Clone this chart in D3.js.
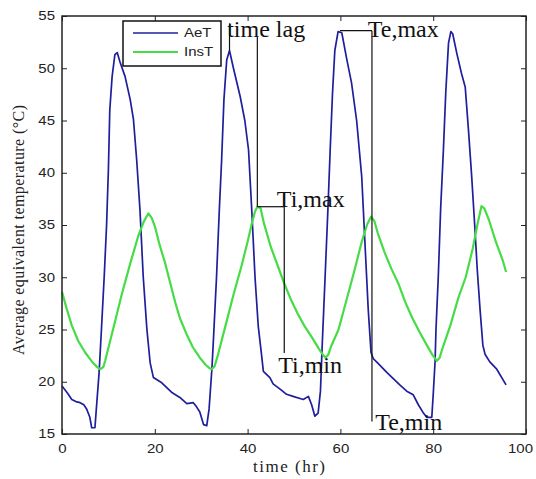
<!DOCTYPE html>
<html>
<head>
<meta charset="utf-8">
<script src="https://cdn.jsdelivr.net/npm/d3@7"></script>
<style>
    body { margin: 0; background: #fff; }
    svg { display: block; }
</style>
</head>
<body>
<svg id="chart" width="536" height="479"></svg>
<script>
'use strict';

/* global d3 */

// AeT - average equivalent (sol-air) temperature
var aetHours = [0, 0.5, 1.2, 2.1, 3.0, 3.9, 4.7, 5.3, 6.0, 6.4, 7.1, 7.4, 8.0, 8.5, 9.1, 9.6, 10.0, 10.3, 10.8, 11.4,
    11.9, 12.5, 13.6, 14.7, 15.4, 16.1, 16.8, 17.5, 18.3, 19.0, 19.7, 21.5, 23.6, 25.4, 26.9, 28.3, 29.0, 29.7, 30.5, 31.2,
    31.7, 32.3, 32.6, 33.3, 33.9, 34.4, 34.9, 35.5, 36.1, 36.9, 38.4, 39.4, 40.2, 40.9, 41.6, 42.3, 43.0, 43.4, 44.8, 45.5,
    47.0, 48.4, 49.8, 52.0, 53.1, 53.8, 54.5, 55.2, 55.7, 56.1, 56.7, 57.3, 57.8, 58.3, 58.8, 59.5, 60.3, 61.4, 62.4, 63.5,
    64.6, 65.3, 66.0, 66.6, 67.1, 67.8, 70.0, 72.8, 74.3, 75.7, 76.8, 77.9, 78.6, 79.7, 80.0, 80.4, 80.6, 81.1, 81.6, 82.2,
    82.7, 83.3, 83.8, 84.2, 85.1, 86.1, 86.9, 87.6, 88.3, 89.0, 89.5, 90.1, 90.7, 91.2, 92.2, 93.7, 95.7];
var aetValues = [19.6, 19.3, 18.9, 18.3, 18.1, 18.0, 17.8, 17.4, 16.6, 15.6, 15.6, 17.4, 20.9, 25.0, 30.1, 34.9, 40.3, 46.0, 49.2, 51.3,
    51.5, 50.6, 49.2, 47.0, 45.1, 41.2, 36.5, 30.1, 25.0, 21.8, 20.4, 19.9, 19.0, 18.5, 17.9, 18.0, 17.6, 17.1, 15.9, 15.8,
    17.4, 21.2, 23.7, 30.0, 36.4, 41.2, 47.0, 50.8, 51.7, 50.1, 47.3, 45.0, 42.2, 36.4, 30.0, 25.3, 22.6, 21.0, 20.4, 19.8,
    19.3, 18.8, 18.6, 18.3, 18.6, 17.8, 16.7, 17.0, 19.1, 23.7, 30.0, 36.4, 42.2, 47.6, 51.7, 53.5, 53.4, 50.8, 48.6, 45.0,
    39.6, 33.2, 26.9, 22.8, 22.2, 21.9, 20.9, 19.7, 19.1, 18.75, 17.8, 17.0, 16.6, 16.6, 18.75, 21.9, 25.0, 30.1, 36.5, 42.2,
    47.6, 52.4, 53.5, 53.3, 51.4, 49.5, 48.2, 44.1, 39.6, 34.6, 30.7, 26.9, 23.5, 22.6, 21.9, 21.2, 19.7];

// InsT - inside temperature
var insHours = [0, 1.0, 2.1, 3.5, 5.0, 6.5, 7.6, 8.2, 8.9, 9.3, 11.0, 12.9, 14.7, 16.4, 17.6, 18.6, 19.3, 20.0, 21.1, 22.2,
    23.3, 24.4, 25.4, 26.8, 28.2, 29.7, 31.0, 31.8, 32.3, 32.9, 33.5, 35.2, 37.0, 38.7, 40.0, 41.0, 41.6, 42.1, 42.8, 43.5,
    45.0, 46.5, 47.9, 49.3, 50.8, 52.3, 53.8, 55.3, 56.2, 56.8, 57.4, 58.0, 59.6, 61.3, 63.0, 64.6, 65.8, 66.6, 67.3, 68.0,
    69.5, 71.0, 72.5, 74.0, 75.5, 77.0, 78.5, 79.8, 80.8, 81.4, 82.0, 83.7, 85.4, 87.0, 88.5, 89.6, 90.4, 91.0, 92.0, 93.5,
    95.0, 95.7];
var insValues = [28.6, 27.0, 25.4, 23.9, 22.8, 21.9, 21.4, 21.2, 21.4, 22.0, 25.0, 28.4, 31.3, 33.9, 35.3, 36.1, 35.7, 34.9, 33.0, 31.4,
    29.5, 27.6, 26.1, 24.6, 23.3, 22.3, 21.6, 21.3, 21.2, 21.5, 22.4, 25.3, 28.4, 31.1, 33.4, 35.3, 36.3, 36.75, 36.6, 35.2,
    32.9, 31.1, 29.4, 27.9, 26.5, 25.3, 24.3, 23.2, 22.6, 22.3, 22.6, 23.4, 25.0, 27.8, 30.6, 33.4, 35.1, 35.8, 35.4, 34.3,
    32.4, 30.8, 29.4, 27.6, 26.1, 24.8, 23.6, 22.6, 22.0, 22.3, 23.2, 25.4, 28.0, 30.0, 32.7, 35.2, 36.8, 36.6, 35.5, 33.4,
    31.6, 30.5];

var xTicks = [0, 20, 40, 60, 80, 100];
var yTicks = [15, 20, 25, 30, 35, 40, 45, 50, 55];

var seriesNames = ["AeT", "InsT"];
var seriesColors = ["#1f1f9c", "#45dc45"];

// annotation segments [hr1, temp1, hr2, temp2]
var annotationSegments = [
    [36.1, 54.3, 36.1, 51.7],
    [42.1, 53.0, 42.1, 36.75],
    [42.1, 36.75, 47.9, 36.75],
    [47.9, 36.75, 47.9, 22.75],
    [59.9, 53.6, 66.8, 53.6],
    [66.8, 53.6, 66.8, 16.2]
];
var annotationTexts = ["time lag", "Te,max", "Ti,max", "Ti,min", "Te,min"];
var annotationHours = [35.6, 65.9, 46.3, 46.6, 67.5];
var annotationTemps = [53.0, 53.0, 36.7, 20.8, 15.4];

var margin = {top: 16, right: 10, bottom: 45, left: 62};
var width = 536 - margin.left - margin.right;
var height = 479 - margin.top - margin.bottom;
var TICK_STRETCH = 1.25;

var svg = d3.select("#chart");
var g = svg.append("g")
    .attr("transform", "translate(" + margin.left + "," + margin.top + ")");

var x = d3.scaleLinear().domain([0, 100]).range([0, width]);
var y = d3.scaleLinear().domain([15, 55]).range([height, 0]);

function styleAxis(sel) {
    sel.select(".domain").remove();
    sel.selectAll(".tick line").attr("stroke", "#222").attr("stroke-width", 1);
    sel.selectAll(".tick text")
        .attr("fill", "#222")
        .style("font-family", "'Liberation Sans', Arial, sans-serif")
        .style("font-size", "12px");
}

// bottom / left axes, ticks pointing inward like matlab
var gx = g.append("g")
    .attr("transform", "translate(0," + height + ")")
    .call(d3.axisBottom(x).tickValues(xTicks).tickSize(-5).tickPadding(10));
styleAxis(gx);
gx.selectAll(".tick text")
    .attr("x", function (d, i) { return i === xTicks.length - 1 ? -6 / TICK_STRETCH : 0; })
    .attr("transform", "scale(" + TICK_STRETCH + ",1)");

var gy = g.append("g")
    .call(d3.axisLeft(y).tickValues(yTicks).tickSize(-5).tickPadding(7));
styleAxis(gy);
gy.selectAll(".tick text")
    .attr("x", -7 / TICK_STRETCH)
    .attr("transform", "scale(" + TICK_STRETCH + ",1)");

// mirrored ticks on top and right
var gTop = g.append("g")
    .call(d3.axisTop(x).tickValues(xTicks).tickSize(-5).tickFormat(""));
styleAxis(gTop);
var gRight = g.append("g")
    .attr("transform", "translate(" + width + ",0)")
    .call(d3.axisRight(y).tickValues(yTicks).tickSize(-5).tickFormat(""));
styleAxis(gRight);

var line = d3.line()
    .x(function (d) { return x(d[0]); })
    .y(function (d) { return y(d[1]); });

var aetData = aetHours.map(function (h, i) { return [h, aetValues[i]]; });
var insData = insHours.map(function (h, i) { return [h, insValues[i]]; });

g.append("path")
    .datum(aetData)
    .attr("fill", "none")
    .attr("stroke", seriesColors[0])
    .attr("stroke-width", 1.7)
    .attr("stroke-linejoin", "round")
    .attr("d", line);

g.append("path")
    .datum(insData)
    .attr("fill", "none")
    .attr("stroke", seriesColors[1])
    .attr("stroke-width", 2.2)
    .attr("stroke-linejoin", "round")
    .attr("d", line);

// annotations
g.selectAll("line.annot")
    .data(annotationSegments)
    .enter()
    .append("line")
    .attr("class", "annot")
    .attr("x1", function (d) { return x(d[0]); })
    .attr("y1", function (d) { return y(d[1]); })
    .attr("x2", function (d) { return x(d[2]); })
    .attr("y2", function (d) { return y(d[3]); })
    .attr("stroke", "#111")
    .attr("stroke-width", 1.2);

g.selectAll("text.annot")
    .data(annotationTexts)
    .enter()
    .append("text")
    .attr("class", "annot")
    .attr("x", function (d, i) { return x(annotationHours[i]); })
    .attr("y", function (d, i) { return y(annotationTemps[i]); })
    .attr("fill", "#111")
    .style("font-family", "'Liberation Serif', 'Times New Roman', serif")
    .style("font-size", "24px")
    .text(function (d) { return d; });

// frame
g.append("rect")
    .attr("width", width)
    .attr("height", height)
    .attr("fill", "none")
    .attr("stroke", "#222")
    .attr("stroke-width", 1.5);

// legend
var legend = g.append("g").attr("transform", "translate(61,5)");
legend.append("rect")
    .attr("width", 98)
    .attr("height", 45)
    .attr("fill", "#fff")
    .attr("stroke", "#111")
    .attr("stroke-width", 1.5);

var legendItems = legend.selectAll("g.item")
    .data(seriesNames)
    .enter()
    .append("g")
    .attr("class", "item")
    .attr("transform", function (d, i) { return "translate(0," + (12 + i * 19) + ")"; });

legendItems.append("line")
    .attr("x1", 10)
    .attr("x2", 55)
    .attr("stroke", function (d, i) { return seriesColors[i]; })
    .attr("stroke-width", function (d, i) { return i === 0 ? 1.7 : 2.2; });

legendItems.append("text")
    .attr("x", 61 / TICK_STRETCH)
    .attr("dy", "0.35em")
    .attr("transform", "scale(" + TICK_STRETCH + ",1)")
    .attr("fill", "#222")
    .style("font-family", "'Liberation Sans', Arial, sans-serif")
    .style("font-size", "12px")
    .text(function (d) { return d; });

// axis titles
svg.append("text")
    .attr("x", 289)
    .attr("y", 472)
    .attr("text-anchor", "middle")
    .attr("textLength", 72)
    .attr("fill", "#222")
    .style("font-family", "'Liberation Serif', 'Times New Roman', serif")
    .style("font-size", "17px")
    .text("time (hr)");

svg.append("text")
    .attr("transform", "translate(24,230) rotate(-90)")
    .attr("text-anchor", "middle")
    .attr("textLength", 250)
    .attr("fill", "#222")
    .style("font-family", "'Liberation Serif', 'Times New Roman', serif")
    .style("font-size", "16px")
    .text("Average equivalent temperature (\u00B0C)");
</script>
</body>
</html>
